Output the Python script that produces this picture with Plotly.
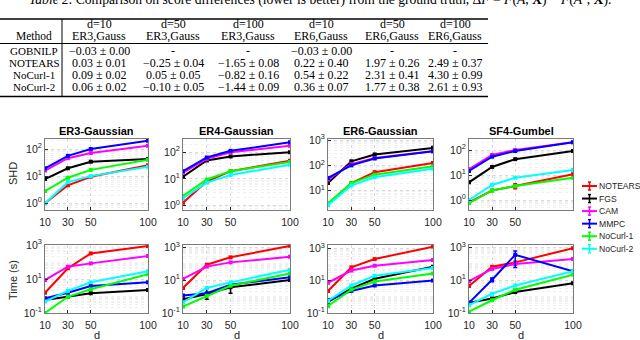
import math
import plotly.graph_objects as go

W, H = 640, 340

# ---------------- table ----------------
table_head1 = ["", "d=10", "d=50", "d=100", "d=10", "d=50", "d=100"]
table_head2 = ["Method", "ER3,Gauss", "ER3,Gauss", "ER3,Gauss", "ER6,Gauss", "ER6,Gauss", "ER6,Gauss"]
table_methods = ["GOBNILP", "NOTEARS", "NoCurl-1", "NoCurl-2"]
row_gobnilp = ["−0.03 ± 0.00", "-", "-", "−0.03 ± 0.00", "-", "-"]
row_notears = ["0.03 ± 0.01", "−0.25 ± 0.04", "−1.65 ± 0.08", "0.22 ± 0.40", "1.97 ± 0.26", "2.49 ± 0.37"]
row_nocurl1 = ["0.09 ± 0.02", "0.05 ± 0.05", "−0.82 ± 0.16", "0.54 ± 0.22", "2.31 ± 0.41", "4.30 ± 0.99"]
row_nocurl2 = ["0.06 ± 0.02", "−0.10 ± 0.05", "−1.44 ± 0.09", "0.36 ± 0.07", "1.77 ± 0.38", "2.61 ± 0.93"]
caption = ("<i>Table 2.</i> Comparison on score differences (lower is better) from the ground truth, "
           "Δ<i>F</i> = <i>F</i>(<i>Â</i>, <b>X</b>) − <i>F</i>(<i>A</i><sup>*</sup>, <b>X</b>).")

# ---------------- charts ----------------
d_vals = [10, 30, 50, 100]
methods = ["NOTEARS", "FGS", "CAM", "MMPC", "NoCurl-1", "NoCurl-2"]
colors = ["#ff0000", "#000000", "#ff00ff", "#0000ff", "#00ff00", "#00ffff"]
panel_titles = ["ER3-Gaussian", "ER4-Gaussian", "ER6-Gaussian", "SF4-Gumbel"]

# SHD per panel, one list per method (order as in `methods`)
shd_er3 = [[1.0, 4.6, 9.5, 25], [7.8, 19.5, 34, 43], [16, 46, 71, 132],
           [19.5, 56, 100, 204], [2.8, 8.7, 17, 40], [1.0, 6.0, 10, 22]]
shd_er4 = [[1.3, 8, 19.5, 48], [12, 49, 69, 100], [17, 56, 98, 174],
           [19.5, 63, 112, 234], [2.3, 9.5, 19.5, 43], [1.9, 7.3, 14, 34]]
shd_er6 = [[3.0, 20, 54, 124], [20, 145, 270, 490], [28, 112, 195, 363],
           [32, 100, 186, 363], [3.2, 20, 43, 93], [2.7, 16, 34, 74]]
shd_sf4 = [[0.8, 2.4, 3.6, 10.7], [5.1, 21, 43, 91], [17, 63, 100, 204],
           [14.5, 54, 91, 204], [0.75, 2.4, 3.6, 7.8], [1.0, 4.0, 7.8, 16]]

# running time (s)
time_er3 = [[1.55, 43, 320, 870], [0.58, 0.9, 1.45, 2.25], [8.7, 53, 83, 224],
            [0.73, 1.55, 3.9, 6.4], [0.1, 0.9, 2.5, 19], [0.47, 2.0, 6.4, 29]]
time_er4 = [[3.4, 89, 250, 1250], [0.7, 1.45, 3.7, 10.3], [12, 68, 123, 270],
            [1.15, 1.6, 5.4, 15], [0.25, 1.1, 4.6, 26], [0.45, 3.4, 7.4, 44]]
time_er6 = [[2.3, 66, 214, 1260], [0.49, 3.2, 12.9, 72], [7.4, 42, 83, 186],
            [0.62, 2.3, 5, 10], [0.27, 2.8, 8.9, 28], [0.56, 5, 20, 60]]
time_sf4 = [[4.4, 66, 123, 890], [0.42, 0.76, 1.9, 6.6], [8.7, 49, 98, 195],
            [0.42, 10.7, 355, 35], [0.12, 0.6, 2.6, 22], [0.3, 1.5, 4.8, 35]]

# visible error bars (upper / lower extent)
shd_sf4_notears_up = [0, 0, 0.9, 0]
shd_sf4_notears_dn = [0, 0, 0.8, 0]
time_er4_fgs_up = [0, 1.65, 2.8, 0]
time_er4_fgs_dn = [0, 0.77, 2.1, 0]
time_sf4_mmpc_up = [0, 3.0, 260, 0]
time_sf4_mmpc_dn = [0, 2.5, 295, 0]

shd_panels = [shd_er3, shd_er4, shd_er6, shd_sf4]
time_panels = [time_er3, time_er4, time_er6, time_sf4]
errors = {(0, 3, 0): (shd_sf4_notears_up, shd_sf4_notears_dn),
          (1, 1, 1): (time_er4_fgs_up, time_er4_fgs_dn),
          (1, 3, 3): (time_sf4_mmpc_up, time_sf4_mmpc_dn)}

x_ticktext = ["10", "30", "50", "100"]
shd_ranges = [[-0.25, 2.37], [-0.16, 2.49], [0.24, 3.04], [-0.4, 2.44]]
time_ranges = [[-1, 3.0], [-1, 3.15], [-1, 3.2], [-1, 3.15]]
shd_tickvals = [[1, 10, 100], [1, 10, 100], [10, 100, 1000], [1, 10, 100]]
time_tickvals = [0.1, 10, 1000]

col_left = [45, 183, 328, 469]
col_right = [148, 290, 433, 573]
row_top = [139, 245]
row_bot = [210, 313]

SANS = "Liberation Sans, Arial, sans-serif"
SERIF = "Liberation Serif, Times New Roman, serif"
AX = "#262626"


def px(x):
    return x / W


def py(y):
    return 1 - y / H


def pow_label(v):
    e = round(math.log10(v))
    return "10<sup>%s</sup>" % (str(e) if e >= 0 else "-%d" % -e)


def note(x, y, text, size, color=AX, family=SANS, xanchor="center", **kw):
    return dict(xref="paper", yref="paper", x=px(x), y=py(y), text=text, showarrow=False,
                xanchor=xanchor, yanchor="middle",
                font=dict(size=size, color=color, family=family), **kw)


def seg(x0, y0, x1, y1, color, width):
    return dict(type="line", xref="paper", yref="paper", x0=px(x0), x1=px(x1),
                y0=py(y0), y1=py(y1), line=dict(color=color, width=width))


fig = go.Figure()
layout = dict(width=W, height=H, margin=dict(l=0, r=0, t=0, b=0, autoexpand=False),
              paper_bgcolor="white", plot_bgcolor="white", showlegend=False,
              font=dict(family=SANS, color=AX))

for r, panels in enumerate([shd_panels, time_panels]):
    for c, series in enumerate(panels):
        k = r * 4 + c + 1
        for m, vals in enumerate(series):
            tr = dict(x=d_vals, y=vals, mode="lines+markers",
                      line=dict(color=colors[m], width=2),
                      marker=dict(color=colors[m], size=4, symbol="square"),
                      xaxis="x%d" % k, yaxis="y%d" % k, name=methods[m],
                      hoverinfo="skip")
            if (r, c, m) in errors:
                up, dn = errors[(r, c, m)]
                tr["error_y"] = dict(type="data", array=up, arrayminus=dn, symmetric=False,
                                     color=colors[m], thickness=1.5, width=2)
            fig.add_trace(go.Scatter(**tr))

        ttext = list(x_ticktext)
        if r == 0 and c == 3:
            ttext[-1] = ""
        layout["xaxis%d" % k] = dict(
            domain=[px(col_left[c]), px(col_right[c])], anchor="y%d" % k,
            range=[10, 100], tickmode="array", tickvals=d_vals, ticktext=ttext,
            ticks="inside", ticklen=3, tickcolor=AX, showline=True, mirror=True,
            linecolor="#7a7a7a", linewidth=1, showgrid=True, gridcolor="#d9d9d9",
            griddash="dot", zeroline=False, tickfont=dict(size=10.5, color=AX),
            ticklabelstandoff=2)
        tv = shd_tickvals[c] if r == 0 else time_tickvals
        rng = shd_ranges[c] if r == 0 else time_ranges[c]
        layout["yaxis%d" % k] = dict(
            domain=[py(row_bot[r]), py(row_top[r])], anchor="x%d" % k,
            type="log", range=rng, tickmode="array", tickvals=tv,
            ticktext=[pow_label(v) for v in tv],
            ticks="inside", ticklen=3, tickcolor=AX, showline=True, mirror=True,
            linecolor="#7a7a7a", linewidth=1, showgrid=True, gridcolor="#d9d9d9",
            griddash="dot", zeroline=False, tickfont=dict(size=10.5, color=AX),
            minor=dict(dtick="D1", showgrid=True, gridcolor="#f0f0f0", ticks=""))

annotations = []
shapes = []

# panel titles, axis labels
for c, t in enumerate(panel_titles):
    xc = (col_left[c] + col_right[c]) / 2
    annotations.append(note(xc, 131, "<b>%s</b>" % t, 11, color="black"))
    annotations.append(note(xc, 335, "d", 11))
annotations.append(note(13, 174, "SHD", 11, textangle=-90))
annotations.append(note(13, 280, "Time (s)", 11, textangle=-90))

# legend (errorbar style icons)
for i, name in enumerate(methods):
    yy = 186 + 12.55 * i
    shapes.append(seg(582, yy, 597, yy, colors[i], 2))
    shapes.append(seg(589.5, yy - 4, 589.5, yy + 4, colors[i], 1.5))
    for cap in (yy - 4, yy + 4):
        shapes.append(seg(588, cap, 591, cap, colors[i], 1.5))
    annotations.append(note(597, yy, name, 8.6, xanchor="left"))

# table
tcol_x = [34, 99, 173, 248, 321, 392, 455]
head_y = [24.5, 36]
row_y = [51, 63, 75, 87]
for j, xx in enumerate(tcol_x):
    for hy, txt in zip(head_y, [table_head1[j], table_head2[j]]):
        if txt:
            annotations.append(note(xx, hy, txt, 12 if j else 11.5, color="black", family=SERIF))
for i, row in enumerate([row_gobnilp, row_notears, row_nocurl1, row_nocurl2]):
    cells = [table_methods[i]] + row
    for j, txt in enumerate(cells):
        annotations.append(note(tcol_x[j], row_y[i], txt, 12 if j else 11, color="black",
                                family=SERIF))
for yy, lw in [(19, 1.5), (43.5, 1.2), (96.5, 1.5)]:
    shapes.append(seg(0, yy, 488, yy, "black", lw))
shapes.append(seg(62, 19, 62, 96.5, "black", 1))
annotations.append(note(320, -1, caption, 13.6, color="black", family=SERIF))

layout["annotations"] = annotations
layout["shapes"] = shapes
fig.update_layout(**layout)
fig.write_html("out.html", config={"displayModeBar": False},
               post_script="document.body.style.margin='0';")
